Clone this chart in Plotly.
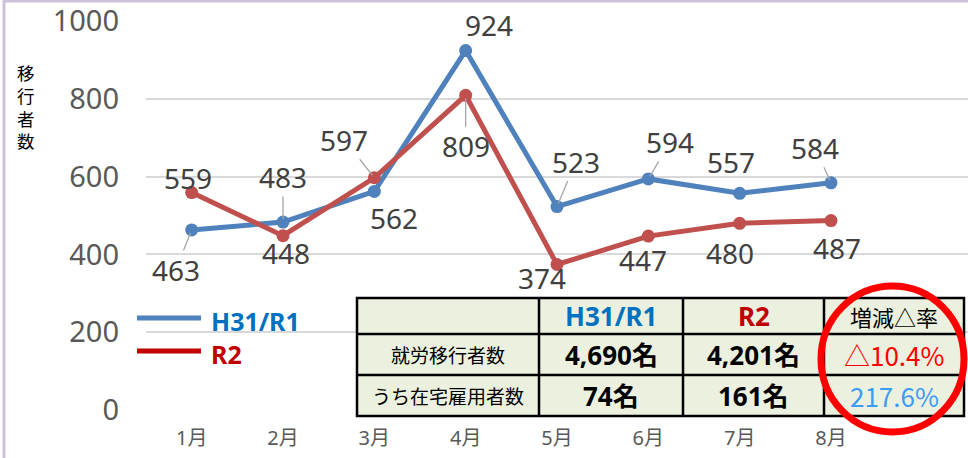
import plotly.graph_objects as go

# ---- data ----
months = ["1月", "2月", "3月", "4月", "5月", "6月", "7月", "8月"]
h31_r1 = [463, 483, 562, 924, 523, 594, 557, 584]
r2 = [559, 448, 597, 809, 374, 447, 480, 487]
series_names = ["H31/R1", "R2"]
y_ticks = [0, 200, 400, 600, 800, 1000]
y_title = "移行者数"

table_header = ["", "H31/R1", "R2", "増減△率"]
row_labels = ["就労移行者数", "うち在宅雇用者数"]
col_h31 = ["4,690名", "74名"]
col_r2 = ["4,201名", "161名"]
col_rate = ["△10.4%", "217.6%"]

# ---- style ----
BLUE = "#4F81BD"
RED = "#C0504D"
FONT = "Noto Sans, Noto Sans CJK JP, sans-serif"
JP = "Noto Sans CJK JP, Noto Sans, sans-serif"

L, R, T, B = 146, 0, 21, 48
W, H = 968, 458
PW, PH = W - L - R, H - T - B


def px(X):
    return (X - L) / PW


def py(Y):
    return (H - B - Y) / PH


fig = go.Figure()
for name, vals, col in [(series_names[0], h31_r1, BLUE), (series_names[1], r2, RED)]:
    fig.add_trace(go.Scatter(
        x=list(range(len(months))), y=vals, name=name, mode="lines+markers",
        line=dict(color=col, width=5), marker=dict(color=col, size=13),
        cliponaxis=False, showlegend=False, hoverinfo="skip"))

# data label offsets (dx, dy in px; dy positive = down), leader flag
blue_off = [(-16, 40, True), (0, -45, True), (20, 27, False), (23, -26, False),
            (19, -45, True), (22, -37, True), (-9, -31, False), (-16, -35, True)]
red_off = [(-4, -15, False), (3, 17, False), (-30, -38, True), (0, 51, True),
           (-15, 13, False), (-5, 24, False), (-10, 30, False), (6, 27, False)]

anns = []
for vals, offs in [(h31_r1, blue_off), (r2, red_off)]:
    for i, (v, (dx, dy, lead)) in enumerate(zip(vals, offs)):
        base = dict(x=i, y=v, xref="x", yref="y", text=str(v),
                    xanchor="center", yanchor="middle",
                    font=dict(family=FONT, size=28, color="#404040"))
        if lead:
            anns.append(dict(base, showarrow=True, ax=dx, ay=dy, arrowhead=0,
                             arrowwidth=1.3, arrowcolor="#A6A6A6", standoff=3,
                             borderpad=0))
        else:
            anns.append(dict(base, showarrow=False, xshift=dx, yshift=-dy))


def txt(X, Y, text, size, color, family=FONT, xanchor="center", **kw):
    anns.append(dict(x=px(X), y=py(Y), xref="paper", yref="paper", text=text,
                     showarrow=False, xanchor=xanchor, yanchor="middle",
                     font=dict(family=family, size=size, color=color), **kw))


# y axis title (vertical, stacked characters)
txt(26, 106, "<br>".join(list(y_title)), 17.5, "#000000", family=JP)

shapes = []
# outer chart border
shapes.append(dict(type="rect", xref="paper", yref="paper", x0=px(4), x1=px(975),
                   y0=py(470), y1=py(1), line=dict(color="#CCC1DA", width=3)))

# custom legend
for (yy, col, tcol, name) in [(318, BLUE, "#0070C0", series_names[0]),
                              (351, "#C00000", "#C00000", series_names[1])]:
    shapes.append(dict(type="line", xref="paper", yref="paper", x0=px(137), x1=px(201),
                       y0=py(yy), y1=py(yy), line=dict(color=col, width=5)))
    txt(209, yy + 3, "<b>" + name + "</b>", 25, tcol, xanchor="left")

# table
xs = [357, 539, 683, 824, 964]
ys = [298, 334, 375, 416]
shapes.append(dict(type="rect", xref="paper", yref="paper", x0=px(xs[0]), x1=px(xs[-1]),
                   y0=py(ys[-1]), y1=py(ys[0]), fillcolor="#EBF1DE",
                   line=dict(color="#000000", width=2.5), layer="above"))
for xv in xs[1:-1]:
    shapes.append(dict(type="line", xref="paper", yref="paper", x0=px(xv), x1=px(xv),
                       y0=py(ys[-1]), y1=py(ys[0]), line=dict(color="#000000", width=2.5),
                       layer="above"))
for yv in ys[1:-1]:
    shapes.append(dict(type="line", xref="paper", yref="paper", x0=px(xs[0]), x1=px(xs[-1]),
                       y0=py(yv), y1=py(yv), line=dict(color="#000000", width=2.5),
                       layer="above"))


def cell(ci, ri, text, size, color, bold=False, family=FONT):
    cx = (xs[ci] + xs[ci + 1]) / 2
    cy = (ys[ri] + ys[ri + 1]) / 2
    txt(cx, cy, ("<b>%s</b>" % text) if bold else text, size, color, family=family)


hdr_colors = ["#000000", "#0070C0", "#C00000", "#000000"]
for ci, t in enumerate(table_header):
    if t:
        if ci == 3:
            cell(ci, 0, t, 22, hdr_colors[ci], family=JP)
        else:
            cell(ci, 0, t, 26, hdr_colors[ci], bold=True)
rate_colors = ["#FF0000", "#3D9BF5"]
for ri in range(2):
    cell(0, ri + 1, row_labels[ri], 19, "#000000", family=JP)
    cell(1, ri + 1, col_h31[ri], 26, "#000000", bold=True)
    cell(2, ri + 1, col_r2[ri], 26, "#000000", bold=True)
    cell(3, ri + 1, col_rate[ri], 26, rate_colors[ri], family=JP)

# red circle
shapes.append(dict(type="circle", xref="paper", yref="paper", x0=px(821), x1=px(964),
                   y0=py(432), y1=py(286), line=dict(color="#FF0000", width=7),
                   layer="above"))

fig.update_layout(
    width=W, height=H, margin=dict(l=L, r=R, t=T, b=B),
    paper_bgcolor="white", plot_bgcolor="white",
    xaxis=dict(tickmode="array", tickvals=list(range(len(months))), ticktext=months,
               range=[-0.5, 8.5], showgrid=False, zeroline=False, showline=False,
               ticks="", tickfont=dict(family=FONT, size=20, color="#595959"),
               ticklabelstandoff=14),
    yaxis=dict(range=[0, 1000], tickvals=y_ticks, showgrid=True, gridcolor="#D9D9D9",
               gridwidth=2, zeroline=False, showline=False, ticks="",
               tickfont=dict(family=FONT, size=29, color="#595959"),
               ticklabelstandoff=26),
    annotations=anns, shapes=shapes, showlegend=False, hovermode=False,
)

fig.write_html("out.html", config={"displayModeBar": False},
               post_script="document.body.style.margin='0';")
